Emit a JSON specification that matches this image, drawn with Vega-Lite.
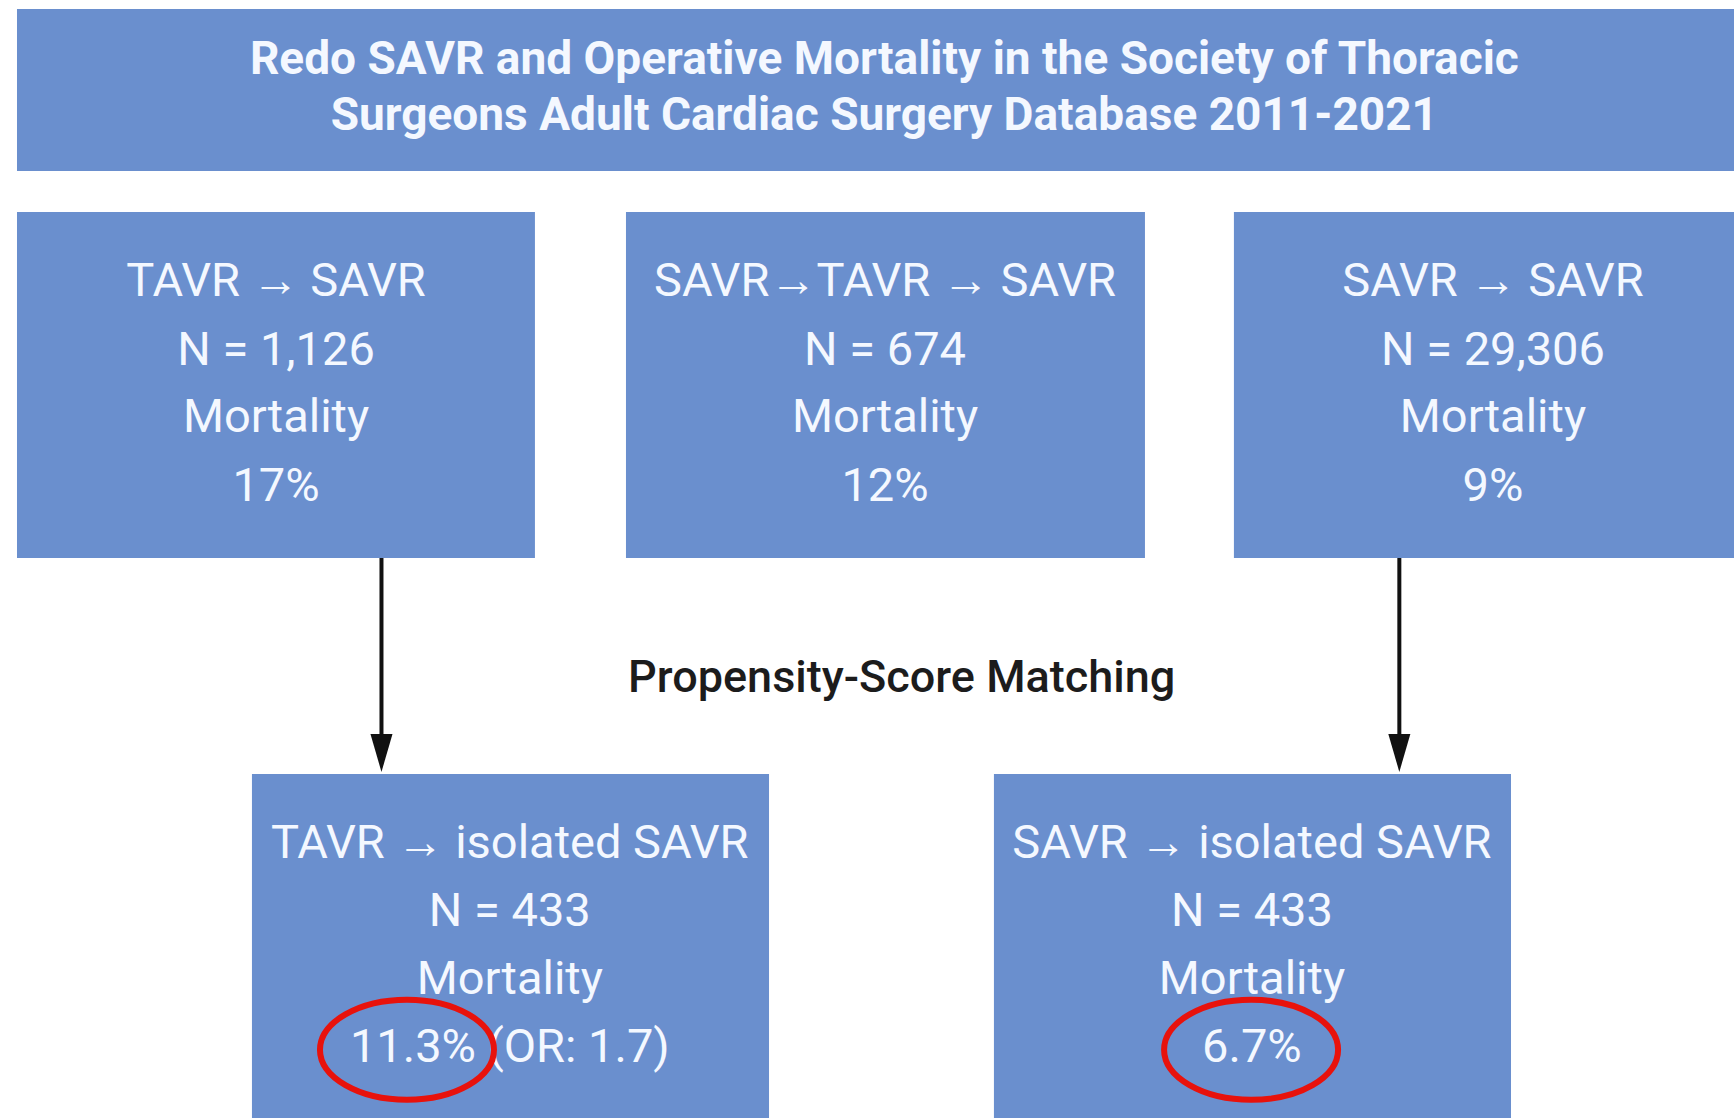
{
  "$schema": "https://vega.github.io/schema/vega-lite/v6.json",
  "width": 1734,
  "height": 1118,
  "padding": 0,
  "autosize": {"type": "none"},
  "background": "white",
  "config": {"view": {"stroke": null}},
  "datasets": {
    "boxes": [
      {"box": "title", "x": 0.98, "x2": 100, "y": 0.8, "y2": 15.3},
      {"box": "TAVR → SAVR", "x": 0.98, "x2": 30.85, "y": 18.96, "y2": 49.9},
      {"box": "SAVR→TAVR → SAVR", "x": 36.1, "x2": 66.03, "y": 18.96, "y2": 49.9},
      {"box": "SAVR → SAVR", "x": 71.16, "x2": 100, "y": 18.96, "y2": 49.9},
      {"box": "TAVR → isolated SAVR", "x": 14.53, "x2": 44.35, "y": 69.23, "y2": 100},
      {"box": "SAVR → isolated SAVR", "x": 57.32, "x2": 87.14, "y": 69.23, "y2": 100}
    ],
    "titles": [
      {"text": "Redo SAVR and Operative Mortality in the Society of Thoracic", "x": 51.0, "y": 5.4},
      {"text": "Surgeons Adult Cardiac Surgery Database 2011-2021", "x": 51.0, "y": 10.4}
    ],
    "labels": [
      {"text": "TAVR → SAVR", "x": 15.92, "y": 25.2},
      {"text": "N = 1,126", "x": 15.92, "y": 31.4},
      {"text": "Mortality", "x": 15.92, "y": 37.4},
      {"text": "17%", "x": 15.92, "y": 43.6},
      {"text": "SAVR→TAVR → SAVR", "x": 51.04, "y": 25.2},
      {"text": "N = 674", "x": 51.04, "y": 31.4},
      {"text": "Mortality", "x": 51.04, "y": 37.4},
      {"text": "12%", "x": 51.04, "y": 43.6},
      {"text": "SAVR → SAVR", "x": 86.1, "y": 25.2},
      {"text": "N = 29,306", "x": 86.1, "y": 31.4},
      {"text": "Mortality", "x": 86.1, "y": 37.4},
      {"text": "9%", "x": 86.1, "y": 43.6},
      {"text": "TAVR → isolated SAVR", "x": 29.4, "y": 75.5},
      {"text": "N = 433", "x": 29.4, "y": 81.6},
      {"text": "Mortality", "x": 29.4, "y": 87.7},
      {"text": "11.3% (OR: 1.7)", "x": 29.4, "y": 93.7},
      {"text": "SAVR → isolated SAVR", "x": 72.2, "y": 75.5},
      {"text": "N = 433", "x": 72.2, "y": 81.6},
      {"text": "Mortality", "x": 72.2, "y": 87.7},
      {"text": "6.7%", "x": 72.2, "y": 93.7}
    ],
    "notes": [
      {"text": "Propensity-Score Matching", "x": 52.0, "y": 60.6}
    ],
    "arrows": [
      {"from": "TAVR → SAVR", "to": "TAVR → isolated SAVR", "x": 22.0, "y": 49.9, "y2": 66.0, "tip": 69.05},
      {"from": "SAVR → SAVR", "to": "SAVR → isolated SAVR", "x": 80.7, "y": 49.9, "y2": 66.0, "tip": 69.05}
    ],
    "highlights": [
      {"value": "11.3%", "x": 23.47, "y": 93.9},
      {"value": "6.7%", "x": 72.15, "y": 93.9}
    ]
  },
  "layer": [
    {
      "data": {"name": "boxes"},
      "mark": {"type": "rect", "fill": "#6a8fce"},
      "encoding": {
        "x": {"field": "x", "type": "quantitative", "scale": {"domain": [0, 100], "nice": false, "zero": false}, "axis": null},
        "x2": {"field": "x2"},
        "y": {"field": "y", "type": "quantitative", "scale": {"domain": [0, 100], "nice": false, "zero": false, "reverse": true}, "axis": null},
        "y2": {"field": "y2"}
      }
    },
    {
      "data": {"name": "titles"},
      "mark": {"type": "text", "font": "Roboto", "fontWeight": "bold", "fontSize": 46, "color": "#f4f8ff", "align": "center", "baseline": "middle"},
      "encoding": {
        "x": {"field": "x", "type": "quantitative", "axis": null},
        "y": {"field": "y", "type": "quantitative", "axis": null},
        "text": {"field": "text", "type": "nominal"}
      }
    },
    {
      "data": {"name": "labels"},
      "mark": {"type": "text", "font": "Roboto", "fontSize": 47, "color": "#f4f8ff", "align": "center", "baseline": "middle"},
      "encoding": {
        "x": {"field": "x", "type": "quantitative", "axis": null},
        "y": {"field": "y", "type": "quantitative", "axis": null},
        "text": {"field": "text", "type": "nominal"}
      }
    },
    {
      "data": {"name": "notes"},
      "mark": {"type": "text", "font": "Roboto", "fontWeight": 500, "fontSize": 45, "color": "#1c1c1c", "align": "center", "baseline": "middle"},
      "encoding": {
        "x": {"field": "x", "type": "quantitative", "axis": null},
        "y": {"field": "y", "type": "quantitative", "axis": null},
        "text": {"field": "text", "type": "nominal"}
      }
    },
    {
      "data": {"name": "arrows"},
      "mark": {"type": "rule", "color": "#111111", "strokeWidth": 4},
      "encoding": {
        "x": {"field": "x", "type": "quantitative", "axis": null},
        "y": {"field": "y", "type": "quantitative", "axis": null},
        "y2": {"field": "y2"}
      }
    },
    {
      "data": {"name": "arrows"},
      "mark": {"type": "point", "shape": "M-0.58,-2L0.58,-2L0,0Z", "size": 1444, "filled": true, "color": "#111111", "opacity": 1},
      "encoding": {
        "x": {"field": "x", "type": "quantitative", "axis": null},
        "y": {"field": "tip", "type": "quantitative", "axis": null}
      }
    },
    {
      "data": {"name": "highlights"},
      "mark": {"type": "point", "shape": "M-1,0A1,0.575 0 1,0 1,0A1,0.575 0 1,0 -1,0Z", "size": 30276, "filled": false, "stroke": "#e8120c", "strokeWidth": 6, "opacity": 1},
      "encoding": {
        "x": {"field": "x", "type": "quantitative", "axis": null},
        "y": {"field": "y", "type": "quantitative", "axis": null}
      }
    }
  ]
}
